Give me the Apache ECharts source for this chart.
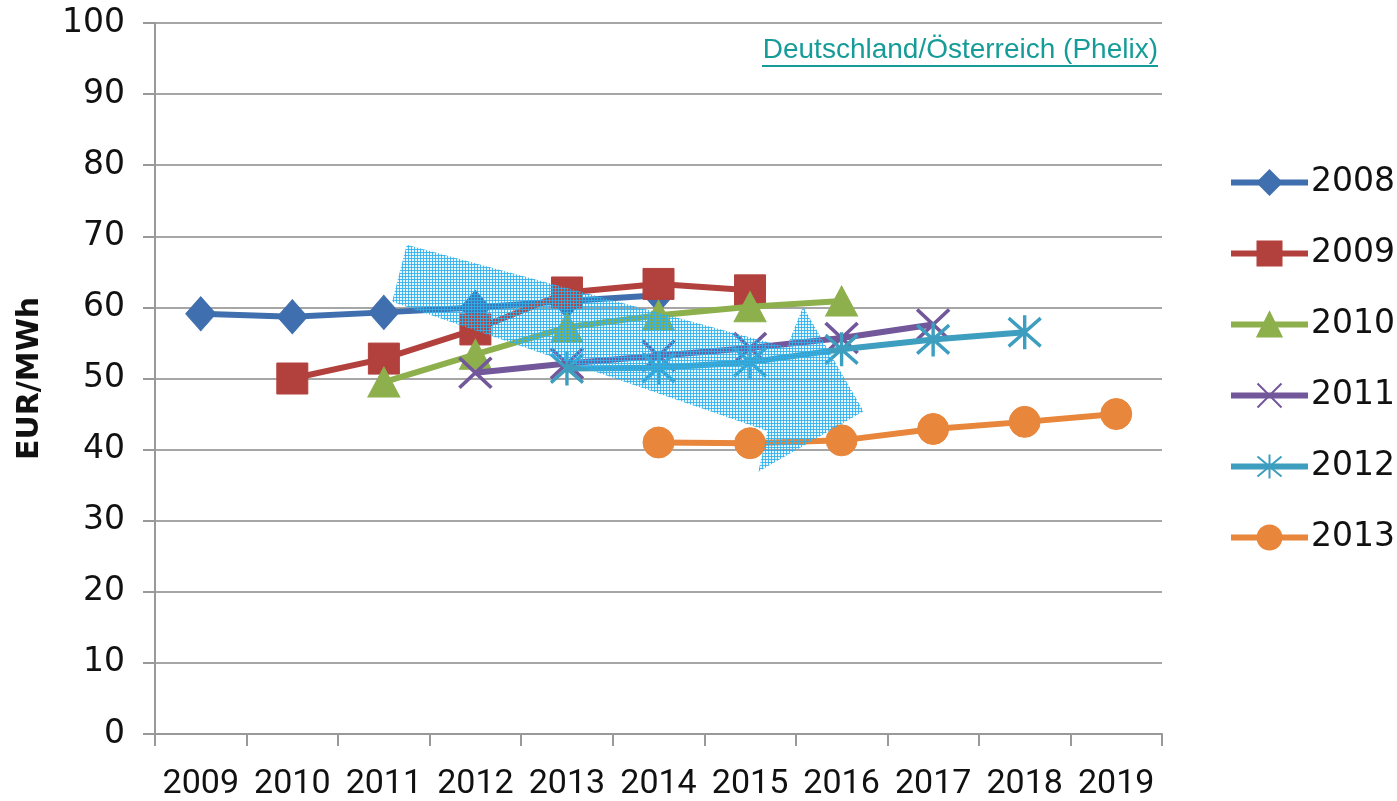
<!DOCTYPE html>
<html>
<head>
<meta charset="utf-8">
<script src="https://cdn.jsdelivr.net/npm/echarts@6/dist/echarts.min.js"></script>
<style>
html,body{margin:0;padding:0;background:#fff;}
#chart{width:1397px;height:801px;}
</style>
</head>
<body>
<div id="chart"></div>
<script>
// ---- data ----
const categories = ['2009','2010','2011','2012','2013','2014','2015','2016','2017','2018','2019'];
const seriesNames = ['2008','2009','2010','2011','2012','2013'];
const s2008 = [59.1, 58.7, 59.3, 60.0, 60.9, 61.7, null, null, null, null, null];
const s2009 = [null, 50.0, 52.8, 56.9, 62.1, 63.3, 62.4, null, null, null, null];
const s2010 = [null, null, 49.5, 53.4, 57.2, 58.9, 60.1, 60.9, null, null, null];
const s2011 = [null, null, null, 50.8, 52.1, 53.2, 54.3, 55.7, 57.6, null, null];
const s2012 = [null, null, null, null, 51.4, 51.5, 52.3, 54.1, 55.5, 56.5, null];
const s2013 = [null, null, null, null, null, 41.0, 40.9, 41.3, 42.9, 43.9, 45.0];
const yTicks = [0,10,20,30,40,50,60,70,80,90,100];
const titleText = 'Deutschland/Österreich (Phelix)';
const yAxisName = 'EUR/MWh';
// arrow annotation outline in data units [category index, EUR/MWh]
const arrowX = [2.25, 6.40, 6.58, 7.24, 6.09, 6.19, 2.09];
const arrowY = [68.8, 54.4, 60.1, 45.4, 36.9, 42.6, 60.8];

const colors = ['#3F6FAE','#B2403D','#8DB04D','#72579A','#3E9EBF','#E8863B'];
const xSym = 'path://M0,0L10,10M10,0L0,10';
const starSym = 'path://M0,1L10,11M10,1L0,11M5,0L5,12';
const symbols = ['diamond','rect','triangle', xSym, starSym, 'circle'];
const symSizes = [[30,34],[31,31],[32,30],[32,30],[32,34],[31,31]];
const allData = [s2008,s2009,s2010,s2011,s2012,s2013];

// hatched pattern for the arrow
const pc = document.createElement('canvas');
pc.width = 3; pc.height = 3;
const pctx = pc.getContext('2d');
pctx.fillStyle = 'rgba(60,180,235,0.12)';
pctx.fillRect(0,0,3,3);
pctx.fillStyle = 'rgba(45,175,235,0.85)';
pctx.fillRect(0,0,3,1);
pctx.fillRect(0,0,1,3);

const chart = echarts.init(document.getElementById('chart'), null, {renderer:'canvas'});

const lineSeries = seriesNames.map((n,i)=>({
  name: n,
  type: 'line',
  xAxisIndex: 0,
  data: allData[i],
  connectNulls: false,
  symbol: symbols[i],
  symbolSize: symSizes[i],
  showAllSymbol: true,
  z: 3 + i,
  lineStyle: {color: colors[i], width: 6},
  itemStyle: (i===3||i===4) ? {color: 'rgba(0,0,0,0)', borderColor: colors[i], borderWidth: 3.5} : {color: colors[i], borderColor: colors[i], borderWidth: 1},
  emphasis: {disabled: true},
  animation: false
}));

const arrowSeries = {
  type: 'custom',
  name: 'arrow',
  xAxisIndex: 1,
  z: 20,
  silent: true,
  animation: false,
  data: [[0, 0]],
  renderItem: function(params, api){
    const pts = arrowX.map((x,k)=>api.coord([x, arrowY[k]]));
    return {
      type: 'polygon',
      shape: {points: pts},
      style: {fill: {image: pc, repeat: 'repeat'}, stroke: null}
    };
  }
};

chart.setOption({
  backgroundColor: '#ffffff',
  animation: false,
  color: colors,
  grid: {left: 155, right: 235, top: 23, bottom: 66, containLabel: false},
  legend: {
    orient: 'vertical',
    left: 1228,
    top: 166,
    padding: 0,
    data: seriesNames,
    itemWidth: 77,
    itemHeight: 30,
    itemGap: 38,
    selectedMode: false,
    lineStyle: {width: 6},
    textStyle: {fontFamily: 'DejaVu Sans', fontSize: 33, color: '#111', lineHeight: 30, padding: [0,0,0,-2]}
  },
  xAxis: [{
    type: 'category',
    data: categories,
    boundaryGap: true,
    axisLine: {show: true, onZero: false, lineStyle: {color: '#999', width: 2}},
    axisTick: {show: true, length: 12, interval: 0, lineStyle: {color: '#999', width: 2}},
    axisLabel: {margin: 33, interval: 0, fontFamily: 'Roboto', fontSize: 34, color: '#111'},
    splitLine: {show: false}
  }, {
    type: 'value',
    min: -0.5, max: 10.5,
    show: false
  }],
  yAxis: {
    type: 'value',
    min: 0, max: 100, interval: 10,
    name: yAxisName,
    nameLocation: 'middle',
    nameRotate: 90,
    nameGap: 110,
    nameTextStyle: {fontFamily: 'DejaVu Sans', fontWeight: 'bold', fontSize: 30, color: '#111'},
    axisLine: {show: true, onZero: false, lineStyle: {color: '#999', width: 2}},
    axisTick: {show: true, length: 12, lineStyle: {color: '#999', width: 2}},
    axisLabel: {margin: 30, fontFamily: 'DejaVu Sans', fontSize: 33, color: '#111',
      formatter: v => yTicks.indexOf(v) >= 0 ? String(v) : ''},
    splitLine: {show: true, lineStyle: {color: '#a6a6a6', width: 2}}
  },
  graphic: [
    {type: 'text', right: 239, top: 36, style: {text: titleText, fontFamily: 'Liberation Sans', fontSize: 28, fill: '#169C98'}},
    {type: 'rect', right: 239, top: 65, shape: {width: 396, height: 2}, style: {fill: '#169C98'}}
  ],
  series: lineSeries.concat([arrowSeries])
});
</script>
</body>
</html>
